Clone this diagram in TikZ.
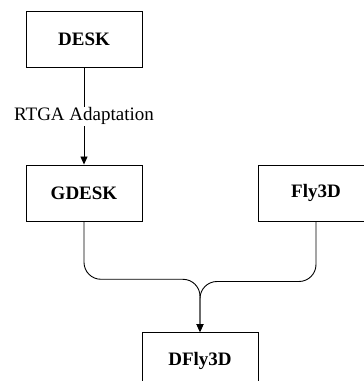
\documentclass[tikz,border=0pt]{standalone}
\usepackage{fontspec}
\setmainfont{Liberation Serif}
\usetikzlibrary{arrows.meta}
\begin{document}
\begin{tikzpicture}[x=1pt,y=1pt,
  block/.style={draw=black, line width=0.9pt, minimum width=116pt, minimum height=56pt,
    inner sep=0pt, font=\fontsize{19}{22}\selectfont\bfseries},
  link/.style={draw=black, line width=0.9pt},
  tip/.style={-{Triangle[length=8pt,width=7pt]}},
  lbl/.style={fill=white, inner sep=1pt, font=\fontsize{19}{22}\selectfont}]
\useasboundingbox (0,0) rectangle (364,381);
% boxes
\node[block] (desk)  at (84,341.5) {DESK};
\node[block] (gdesk) at (84,188)   {GDESK};
\node[block] (fly)   at (316,188)  {Fly3D};
\node[block] (dfly)  at (200,20.5) {DFly3D};
% merge points of the two feeds
\coordinate (jl) at (200,101.7);
\coordinate (jr) at (200,99.5);
% connectors
\draw[link,tip] (desk.south) -- node[lbl] {RTGA Adaptation} (gdesk.north);
\draw[link,tip,rounded corners=17pt] (gdesk.south) |- (jl) -- (dfly.north);
\draw[link,tip,rounded corners=17pt] (fly.south) |- (jr) -- (dfly.north);
\end{tikzpicture}
\end{document}
